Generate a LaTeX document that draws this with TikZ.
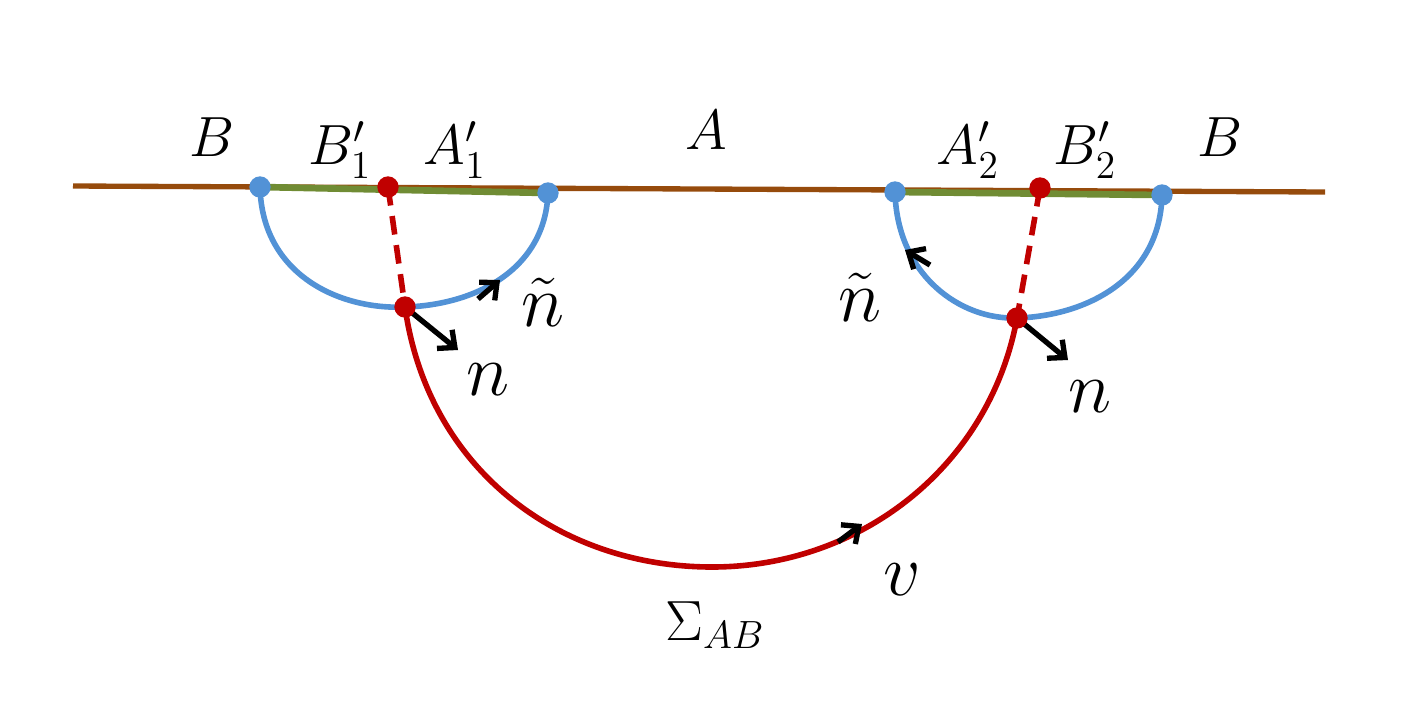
\documentclass[tikz,border=0pt]{standalone}
\usetikzlibrary{arrows.meta}
\definecolor{lineBrown}{RGB}{150,75,12}
\definecolor{segGreen}{RGB}{112,140,52}
\definecolor{arcBlue}{RGB}{82,146,214}
\definecolor{sigRed}{RGB}{192,0,0}
\tikzset{
  lbl/.style={inner sep=0pt,font=\fontsize{20}{24}\selectfont,scale=2.05},
  bdot/.style={circle,fill=arcBlue,inner sep=0pt,minimum size=16pt},
  rdot/.style={circle,fill=sigRed,inner sep=0pt,minimum size=16pt},
  vec/.style={black,line width=4pt,-{Straight Barb[length=10pt,width=18pt]}}
}
\begin{document}
\begin{tikzpicture}[x=0.75pt,y=-0.75pt]
\useasboundingbox (0,0) rectangle (1424,701);

% boundary line
\coordinate (lend) at (73,186);
\coordinate (rend) at (1325,192);
\draw [lineBrown,line width=4pt] (lend) -- (rend);

% end points
\coordinate (pb1) at (260,187);
\coordinate (pa1) at (548,193);
\coordinate (pa2) at (895,192);
\coordinate (pb2) at (1162,195);
\coordinate (pr1) at (388,187);
\coordinate (pr2) at (1040,188);
\coordinate (q1) at (405,307);
\coordinate (q2) at (1017,318);
\draw [segGreen,line width=5pt] (pb1) -- (pa1);
\draw [segGreen,line width=5pt] (pa2) -- (pb2);

% blue arcs
\draw [arcBlue,line width=4.2pt] (pb1) .. controls (262,275) and (340,310) .. (q1) .. controls (475,305) and (545,270) .. (pa1);
\draw [arcBlue,line width=4.2pt] (pa2) .. controls (897,275) and (960,320) .. (q2) .. controls (1085,316) and (1160,280) .. (pb2);

% red surface
\draw [sigRed,line width=4.2pt,dash pattern=on 14pt off 8pt] (pr1) -- (q1);
\draw [sigRed,line width=4.2pt,dash pattern=on 14pt off 8pt] (pr2) -- (q2);
\draw [sigRed,line width=4.2pt] (q1) .. controls (428,470) and (560,567) .. (712,567) .. controls (862,567) and (990,465) .. (q2);

% vectors
\draw [vec] (q1) -- (458,350);
\draw [vec] (q2) -- (1068,360);
\draw [vec] (478,299) -- (500,280);
\draw [vec] (930,265) -- (905,250);
\draw [vec] (838,542) -- (862,524);

% dots
\node [bdot] (b1) at (pb1) {};
\node [bdot] (a1) at (pa1) {};
\node [bdot] (a2) at (pa2) {};
\node [bdot] (b2) at (pb2) {};
\node [rdot] (r1) at (pr1) {};
\node [rdot] (r2) at (pr2) {};
\node [rdot] (s1) at (q1) {};
\node [rdot] (s2) at (q2) {};

% Text Node
\node [lbl] (tB1) at (212,137) {$B$};
\node [lbl] (tBp1) at (340,150) {$B_1'$};
\node [lbl] (tAp1) at (455,150) {$A_1'$};
\node [lbl] (tA) at (706,130) {$A$};
\node [lbl] (tAp2) at (968,150) {$A_2'$};
\node [lbl] (tBp2) at (1085,150) {$B_2'$};
\node [lbl] (tB2) at (1220,137) {$B$};
\node [lbl,scale=1.3] (tnt1) at (543,302) {$\tilde n$};
\node [lbl,scale=1.3] (tn1) at (488,380) {$n$};
\node [lbl,scale=1.3] (tnt2) at (860,297) {$\tilde n$};
\node [lbl,scale=1.3] (tn2) at (1090,397) {$n$};
\node [lbl,scale=1.3] (tv) at (902,580) {$v$};
\node [lbl] (tS) at (715,625) {$\Sigma_{AB}$};
\end{tikzpicture}
\end{document}
